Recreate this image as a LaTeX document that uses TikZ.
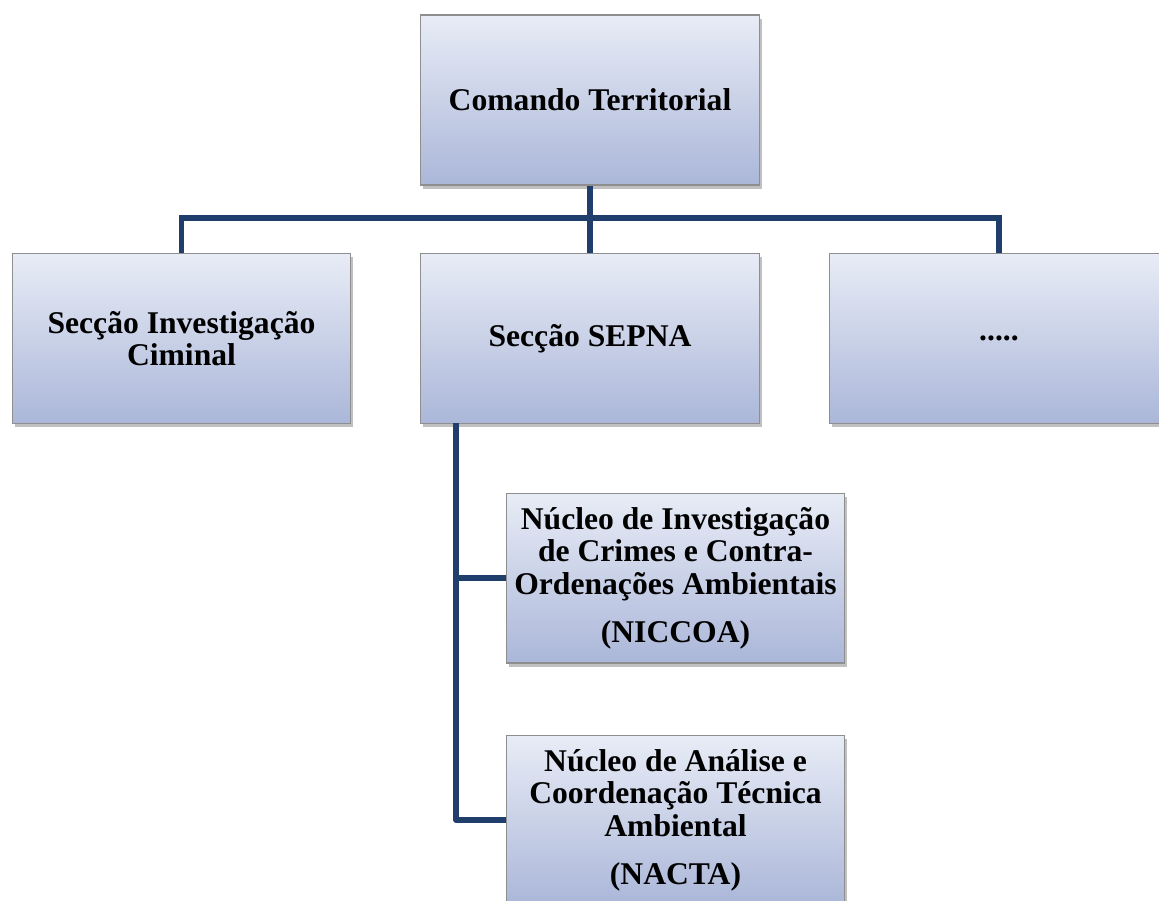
\documentclass[tikz,border=0pt]{standalone}
\usepackage{fontspec}
\setmainfont{Liberation Serif}
\usetikzlibrary{shadows}
\definecolor{boxtop}{HTML}{E8ECF6}
\definecolor{boxbottom}{HTML}{ABB7D9}
\definecolor{boxline}{HTML}{8E8E8E}
\definecolor{linkblue}{HTML}{1F3E6C}
\begin{document}
\begin{tikzpicture}[x=0.02cm, y=-0.02cm,
    unit/.style={draw=boxline, line width=0.6pt, rectangle, top color=boxtop, bottom color=boxbottom,
      minimum width=6.77cm, minimum height=3.4cm, align=center, inner sep=2pt,
      font=\fontsize{18}{18.5}\selectfont\bfseries,
      drop shadow={shadow xshift=1.5pt, shadow yshift=-2.2pt, opacity=0.45, fill=black!55}},
    link/.style={draw=linkblue, line width=3pt}]
        \useasboundingbox (0, 0) rectangle (1159, 900);
        \clip (0, 0) rectangle (1159, 900);
        % Command level
        \node[unit] (cmd) at (590, 100) {Comando Territorial};

        % Sections
        \node[unit] (sic) at (181.5, 338.5) {Secção Investigação\\Ciminal};
        \node[unit] (sepna) at (590, 338.5) {Secção SEPNA};
        \node[unit] (other) at (999, 338.5) {.....};

        % Nuclei
        \node[unit] (niccoa) at (675.5, 578) {Núcleo de Investigação\\de Crimes e Contra-\\Ordenações Ambientais\\[8.8pt](NICCOA)};
        \node[unit] (nacta) at (675.5, 820) {Núcleo de Análise e\\Coordenação Técnica\\Ambiental\\[8.8pt](NACTA)};

        % Links
        \coordinate (bus) at (590, 218);
        \coordinate (spine) at (456, 423);
        \draw[link] (cmd.south) -- (sepna.north);
        \draw[link] (sic.north) |- (bus) -| (other.north);
        \draw[link] (spine) |- (niccoa.west);
        \draw[link, line join=round] (spine) |- (nacta.west);
    \end{tikzpicture}
\end{document}
